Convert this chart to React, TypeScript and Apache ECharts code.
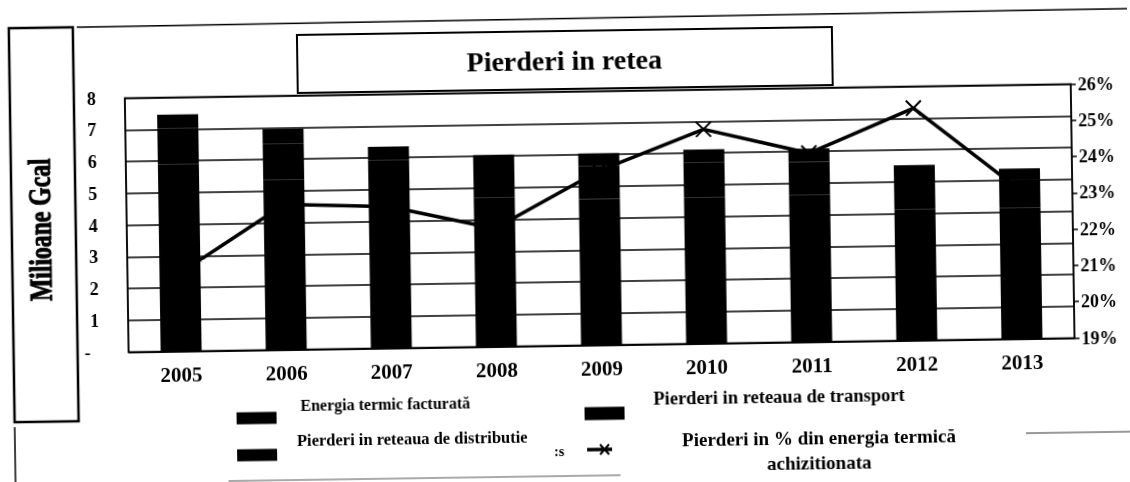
import React, { useEffect, useRef } from "react";
import * as echarts from "echarts";

const years = ["2005", "2006", "2007", "2008", "2009", "2010", "2011", "2012", "2013"];
const energiaFacturata = [5.88, 5.35, 4.9, 4.7, 4.6, 4.59, 4.62, 4.12, 4.12];
const pierderiDistributie = [1.15, 1.15, 1.03, 0.95, 1.03, 1.1, 1.05, 1.0, 0.88];
const pierderiTransport = [0.43, 0.45, 0.42, 0.39, 0.41, 0.42, 0.42, 0.4, 0.36];
const pierderiProcent = [21.15, 23.0, 22.9, 22.25, 23.8, 24.9, 24.2, 25.4, 23.1];

const titleText = "Pierderi in retea";
const yAxisTitle = "Milioane Gcal";
const legendNames = [
  "Energia termic facturată",
  "Pierderi in reteaua de distributie",
  "Pierderi in reteaua de transport",
  "Pierderi in % din energia termică",
  "achizitionata",
];

const SERIF = '"Liberation Serif", "Times New Roman", serif';

export default function App() {
  const ref = useRef<HTMLDivElement>(null);

  useEffect(() => {
    if (!ref.current) return;
    const chart = echarts.init(ref.current, null, { renderer: "svg" });
    const barCommon = {
      type: "bar" as const,
      stack: "total",
      barWidth: 41,
      z: 3,
      itemStyle: { color: "#000" },
    };
    chart.setOption({
      animation: false,
      backgroundColor: "#fff",
      grid: {
        left: 127,
        right: 57,
        top: 91.5,
        bottom: 136.5,
        show: true,
        borderColor: "#000",
        borderWidth: 1.5,
      },
      xAxis: {
        type: "category",
        data: years,
        axisLine: { show: true, lineStyle: { color: "#000", width: 1.5 } },
        axisTick: { show: false },
        axisLabel: {
          color: "#000",
          fontFamily: SERIF,
          fontWeight: "bold",
          fontSize: 21,
          margin: 13,
        },
      },
      yAxis: [
        {
          type: "value",
          min: 0,
          max: 8,
          interval: 1,
          axisLine: { show: true, lineStyle: { color: "#000", width: 1.5 } },
          axisTick: { show: false },
          splitLine: { show: true, lineStyle: { color: "#000", width: 1.5 } },
          axisLabel: {
            color: "#000",
            fontFamily: SERIF,
            fontWeight: "bold",
            fontSize: 18,
            margin: 29,
            formatter: (v: number) => (v === 0 ? "-  " : String(v)),
          },
        },
        {
          type: "value",
          min: 19,
          max: 26,
          interval: 1,
          position: "right",
          axisLine: { show: true, lineStyle: { color: "#000", width: 1.5 } },
          axisTick: { show: true, length: 5, lineStyle: { color: "#000", width: 1.5 } },
          splitLine: { show: false },
          axisLabel: {
            color: "#000",
            fontFamily: SERIF,
            fontWeight: "bold",
            fontSize: 18,
            margin: 7,
            formatter: (v: number) => v + "%",
          },
        },
      ],
      series: [
        { ...barCommon, name: legendNames[0], data: energiaFacturata },
        { ...barCommon, name: legendNames[1], data: pierderiDistributie },
        { ...barCommon, name: legendNames[2], data: pierderiTransport },
        {
          type: "line",
          name: legendNames[3],
          yAxisIndex: 1,
          data: pierderiProcent,
          z: 1,
          symbol: "path://M0,0L10,10M0,10L10,0",
          symbolSize: 15,
          showSymbol: true,
          itemStyle: { color: "none", borderColor: "#000", borderWidth: 2 },
          lineStyle: { color: "#000", width: 3.5 },
        },
      ],
      graphic: [
        // outer frame lines
        { type: "line", shape: { x1: 80, y1: 20, x2: 1130, y2: 17 }, style: { stroke: "#000", lineWidth: 1.5 } },
        { type: "rect", shape: { x: 12, y: 20, width: 64, height: 394 }, style: { fill: "none", stroke: "#000", lineWidth: 2.5 } },
        { type: "line", shape: { x1: 12, y1: 419, x2: 12, y2: 500 }, style: { stroke: "#000", lineWidth: 1.5 } },
        { type: "line", shape: { x1: 225, y1: 476, x2: 617, y2: 476 }, style: { stroke: "#555", lineWidth: 1 } },
        { type: "line", shape: { x1: 1023, y1: 440, x2: 1130, y2: 440 }, style: { stroke: "#333", lineWidth: 1 } },
        // title box
        { type: "rect", shape: { x: 300, y: 31, width: 535, height: 58 }, style: { fill: "#fff", stroke: "#000", lineWidth: 2 } },
        {
          type: "text",
          x: 567,
          y: 60,
          style: { text: titleText, font: `bold 28px ${SERIF}`, fill: "#000", textAlign: "center", textVerticalAlign: "middle" },
        },
        // y axis title
        {
          type: "text",
          x: 40,
          y: 222,
          rotation: Math.PI / 2,
          scaleX: 0.74,
          style: {
            text: yAxisTitle,
            font: `bold 32px ${SERIF}`,
            fill: "#000",
            stroke: "#000",
            lineWidth: 1,
            textAlign: "center",
            textVerticalAlign: "middle",
          },
        },
        // legend
        { type: "rect", shape: { x: 234, y: 407.5, width: 40, height: 12 }, style: { fill: "#000" } },
        { type: "rect", shape: { x: 234, y: 444.5, width: 40, height: 12 }, style: { fill: "#000" } },
        { type: "rect", shape: { x: 582, y: 407.5, width: 40, height: 13 }, style: { fill: "#000" } },
        { type: "line", shape: { x1: 584, y1: 450, x2: 609, y2: 450 }, style: { stroke: "#000", lineWidth: 3.5 } },
        { type: "line", shape: { x1: 597, y1: 445, x2: 606, y2: 455 }, style: { stroke: "#000", lineWidth: 2 } },
        { type: "line", shape: { x1: 597, y1: 455, x2: 606, y2: 445 }, style: { stroke: "#000", lineWidth: 2 } },
        {
          type: "text",
          x: 298,
          y: 401,
          style: { text: legendNames[0], font: `bold 16px ${SERIF}`, fill: "#000", textAlign: "left", textVerticalAlign: "middle" },
        },
        {
          type: "text",
          x: 294,
          y: 436,
          style: { text: legendNames[1], font: `bold 16.5px ${SERIF}`, fill: "#000", textAlign: "left", textVerticalAlign: "middle" },
        },
        {
          type: "text",
          x: 551,
          y: 451,
          style: { text: ":s", font: `bold 14px ${SERIF}`, fill: "#000", textAlign: "left", textVerticalAlign: "middle" },
        },
        {
          type: "text",
          x: 651,
          y: 400,
          style: { text: legendNames[2], font: `bold 18.5px ${SERIF}`, fill: "#000", textAlign: "left", textVerticalAlign: "middle" },
        },
        {
          type: "text",
          x: 816,
          y: 441,
          style: { text: legendNames[3], font: `bold 19px ${SERIF}`, fill: "#000", textAlign: "center", textVerticalAlign: "middle" },
        },
        {
          type: "text",
          x: 816,
          y: 466,
          style: { text: legendNames[4], font: `bold 19px ${SERIF}`, fill: "#000", textAlign: "center", textVerticalAlign: "middle" },
        },
      ],
    });
    return () => chart.dispose();
  }, []);

  return (
    <div
      ref={ref}
      style={{
        position: "fixed",
        left: 0,
        top: 0,
        width: 1130,
        height: 482,
        background: "#fff",
        transform: "rotate(-0.85deg)",
        transformOrigin: "565px 241px",
      }}
    />
  );
}
